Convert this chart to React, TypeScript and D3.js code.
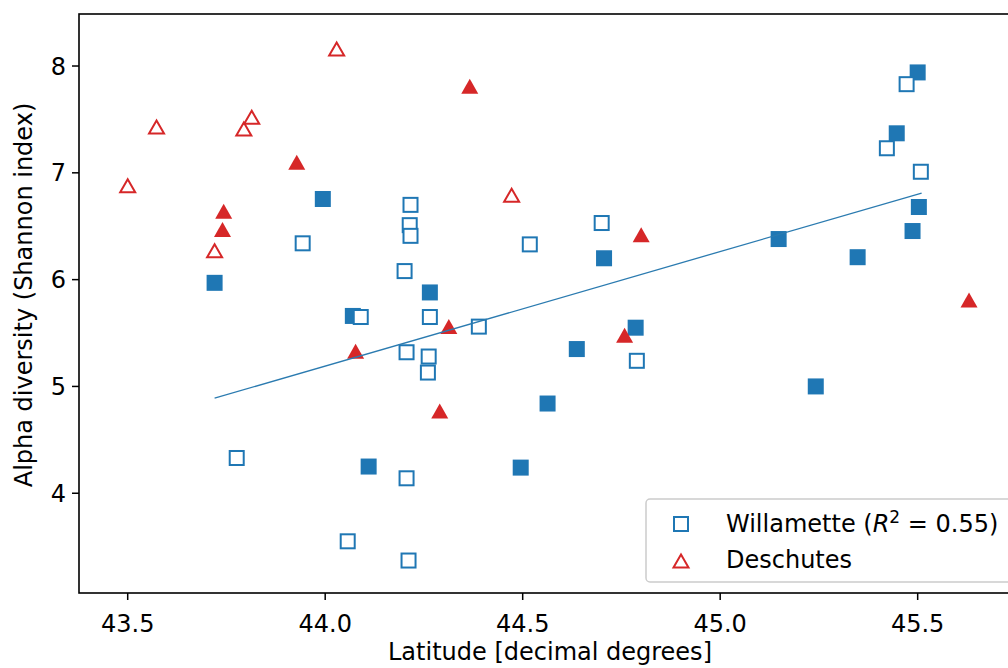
import React from "react";
import * as d3 from "d3";

// Willamette — filled squares
const wilFilledLat = [43.72, 43.994, 44.07, 44.265, 44.11, 44.495, 44.563, 44.637, 44.706, 44.786, 45.148, 45.242, 45.348, 45.447, 45.5, 45.503, 45.487];
const wilFilledDiv = [5.97, 6.755, 5.66, 5.88, 4.25, 4.24, 4.84, 5.35, 6.20, 5.55, 6.38, 5.00, 6.21, 7.37, 7.94, 6.68, 6.455];
// Willamette — open squares
const wilOpenLat = [43.776, 43.943, 44.09, 44.057, 44.216, 44.214, 44.216, 44.201, 44.206, 44.265, 44.262, 44.26, 44.206, 44.211, 44.389, 44.518, 44.70, 44.789, 45.472, 45.422, 45.508];
const wilOpenDiv = [4.33, 6.34, 5.65, 3.55, 6.70, 6.51, 6.41, 6.08, 5.32, 5.65, 5.28, 5.13, 4.14, 3.37, 5.56, 6.33, 6.53, 5.24, 7.83, 7.23, 7.01];
// Deschutes — open triangles
const desOpenLat = [43.5, 43.573, 43.794, 43.814, 43.72, 44.029, 44.472];
const desOpenDiv = [6.88, 7.43, 7.41, 7.52, 6.27, 8.16, 6.79];
// Deschutes — filled triangles
const desFilledLat = [43.743, 43.74, 43.928, 44.366, 44.077, 44.313, 44.29, 44.758, 44.8, 45.63];
const desFilledDiv = [6.64, 6.47, 7.10, 7.81, 5.33, 5.56, 4.77, 5.48, 6.42, 5.81];
// Willamette linear fit endpoints
const fitLat = [43.72, 45.51];
const fitDiv = [4.89, 6.81];

const xTicks = [43.5, 44.0, 44.5, 45.0, 45.5];
const yTicks = [4, 5, 6, 7, 8];

const BLUE = "#1f77b4";
const RED = "#d62728";
const FONT = "DejaVu Sans, sans-serif";

export default function App() {
  const left = 79, right = 1018, top = 14, bottom = 593;
  const x = d3.scaleLinear().domain([43.3767, 45.754]).range([left, right]);
  const y = d3.scaleLinear().domain([3.066, 8.487]).range([bottom, top]);
  const sq = 16;
  const tri = (cx: number, cy: number, w: number, h: number) =>
    `M${cx},${cy - h / 2}L${cx + w / 2},${cy + h / 2}L${cx - w / 2},${cy + h / 2}Z`;
  const line = d3.line<number>().x((d, i) => x(fitLat[i])).y((d) => y(d));

  return (
    <svg width={1008} height={668} style={{ position: "absolute", left: 0, top: 0, background: "#fff" }} fontFamily={FONT}>
      <rect x={0} y={0} width={1008} height={668} fill="#fff" />
      {/* filled squares */}
      {wilFilledLat.map((v, i) => (
        <rect key={"wf" + i} x={x(v) - sq / 2} y={y(wilFilledDiv[i]) - sq / 2} width={sq} height={sq} fill={BLUE} />
      ))}
      {/* filled triangles */}
      {desFilledLat.map((v, i) => (
        <path key={"df" + i} d={tri(x(v), y(desFilledDiv[i]), 17, 15)} fill={RED} />
      ))}
      {/* open squares */}
      {wilOpenLat.map((v, i) => (
        <rect key={"wo" + i} x={x(v) - 7} y={y(wilOpenDiv[i]) - 7} width={14} height={14} fill="#fff" stroke={BLUE} strokeWidth={2} />
      ))}
      {/* open triangles */}
      {desOpenLat.map((v, i) => (
        <path key={"do" + i} d={tri(x(v), y(desOpenDiv[i]), 15, 13)} fill="#fff" stroke={RED} strokeWidth={2} strokeLinejoin="miter" />
      ))}
      {/* fit line */}
      <path d={line(fitDiv) || ""} fill="none" stroke="#2b7bb0" strokeWidth={1.3} />
      {/* frame */}
      <rect x={left} y={top} width={right - left} height={bottom - top} fill="none" stroke="#000" strokeWidth={1.6} />
      {/* x ticks */}
      {xTicks.map((t) => (
        <g key={"xt" + t}>
          <line x1={x(t)} x2={x(t)} y1={bottom} y2={bottom + 7} stroke="#000" strokeWidth={1.5} />
          <text x={x(t)} y={632} textAnchor="middle" fontSize={24} fill="#000">{t.toFixed(1)}</text>
        </g>
      ))}
      {yTicks.map((t) => (
        <g key={"yt" + t}>
          <line x1={left - 7} x2={left} y1={y(t)} y2={y(t)} stroke="#000" strokeWidth={1.5} />
          <text x={left - 13} y={y(t) + 8.5} textAnchor="end" fontSize={24} fill="#000">{t}</text>
        </g>
      ))}
      <text x={550} y={660} textAnchor="middle" fontSize={24} fill="#000">Latitude [decimal degrees]</text>
      <text transform="translate(32,295) rotate(-90)" textAnchor="middle" fontSize={24} fill="#000">Alpha diversity (Shannon index)</text>
      {/* legend */}
      <rect x={646} y={499} width={370} height={83} rx={4} fill="#fff" fillOpacity={0.8} stroke="#cccccc" strokeWidth={1.5} />
      <rect x={681 - 7} y={524 - 7} width={14} height={14} fill="#fff" stroke={BLUE} strokeWidth={2} />
      <path d={tri(681, 561, 15, 13)} fill="#fff" stroke={RED} strokeWidth={2} />
      <text x={726} y={532} fontSize={24} fill="#000">
        Willamette (<tspan fontStyle="italic">R</tspan>
        <tspan dy={-9} fontSize={17}>2</tspan>
        <tspan dy={9}> = 0.55)</tspan>
      </text>
      <text x={726} y={568} fontSize={24} fill="#000">Deschutes</text>
    </svg>
  );
}
